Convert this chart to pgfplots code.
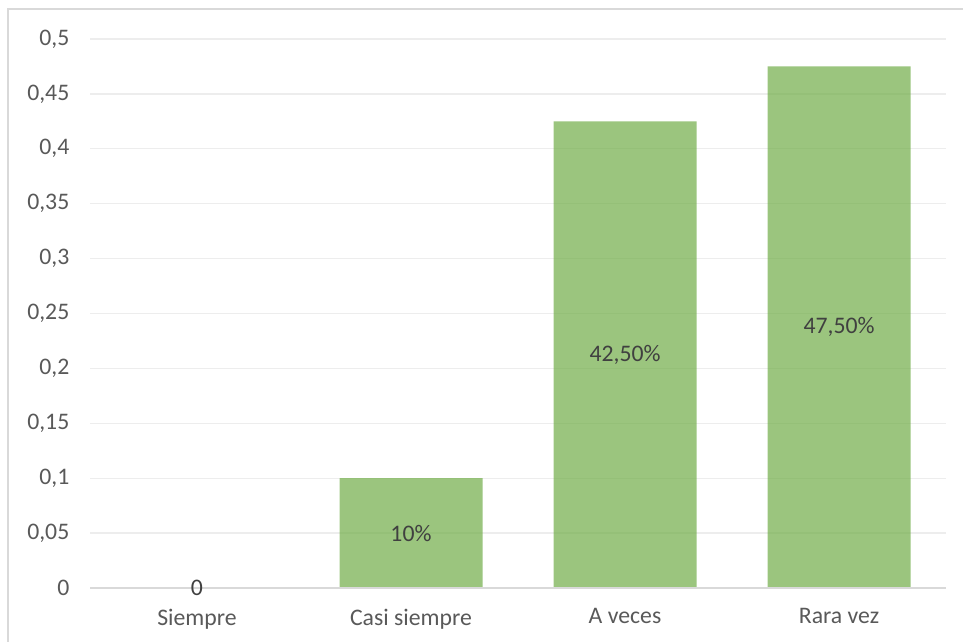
\documentclass[border=0pt]{standalone}
\usepackage{pgfplots}
\pgfplotsset{compat=1.18}
\usepackage{fontspec}
\setmainfont{Carlito}
\definecolor{barg}{HTML}{70AD47}
\definecolor{txt}{HTML}{595959}
\definecolor{lbl}{HTML}{404040}
\definecolor{grd}{HTML}{EDEDED}
\definecolor{zer}{HTML}{D9D9D9}
\definecolor{frm}{HTML}{D9D9D9}
\begin{document}
\begin{tikzpicture}
\path[use as bounding box] (0,0) rectangle (722.25pt,481.5pt);
\draw[frm, line width=1.3pt] (6pt,-10pt) rectangle (735pt,474.75pt);
\begin{axis}[
  at={(67.5pt,40.5pt)}, anchor=south west,
  scale only axis, width=642pt, height=411.75pt,
  xmin=-0.5, xmax=3.5, ymin=0, ymax=0.5,
  axis line style={draw=none},
  ytick={0,0.05,...,0.5},
  xtick={0,1,2,3},
  xticklabels={Siempre,Casi siempre,A veces,Rara vez},
  major tick length=0pt,
  ymajorgrids, grid style={grd, line width=1pt},
  /pgf/number format/assume math mode=true,
  yticklabel style={/pgf/number format/use comma,/pgf/number format/fixed,font=\fontsize{17.8}{20}\selectfont, text=txt, xshift=-12pt},
  xticklabel style={font=\fontsize{17.8}{20}\selectfont, text=txt, yshift=-12pt},
  clip=false,
]
\addplot[ybar, bar width=107.25pt, fill=barg, fill opacity=0.7, draw=none] coordinates {(0,0) (1,0.1) (2,0.425) (3,0.475)};
\draw[zer, line width=1pt] (axis cs:-0.5,0) -- (axis cs:3.5,0);
\addplot[only marks, mark=none, nodes near coords, point meta=explicit symbolic,
  every node near coord/.append style={anchor=center, font=\fontsize{17.8}{20}\selectfont, text=lbl}]
  coordinates {(0,0)[0] (1,0.05)[10\%] (2,0.2125)[42,50\%] (3,0.2375)[47,50\%]};
\end{axis}
\end{tikzpicture}
\end{document}
